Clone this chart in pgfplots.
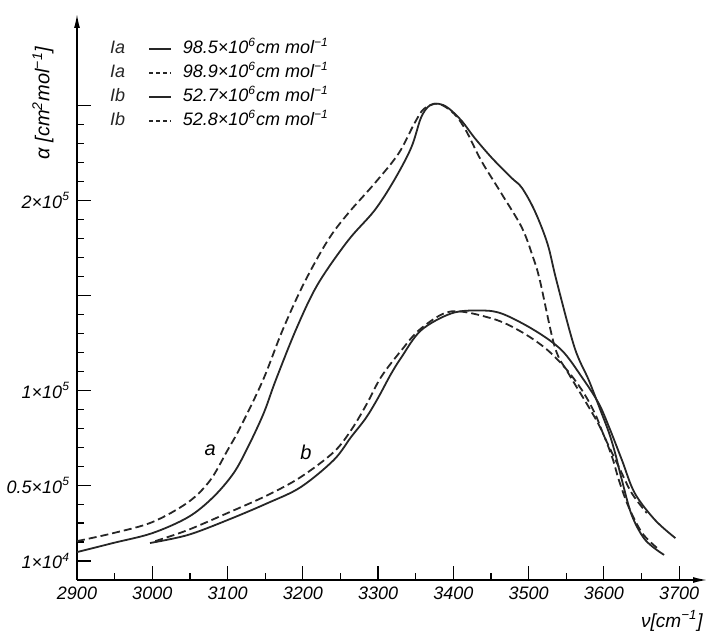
\documentclass[border=0pt]{standalone}
\usepackage{pgfplots}
\pgfplotsset{compat=1.18}
\usepackage{fontspec}
\setmainfont{Liberation Sans}
\usetikzlibrary{arrows.meta}

% curves, y in units of 1e4 cm^2/mol
\pgfplotstableread{
x y
2900 1.47
2948 1.95
3000 2.47
3048 3.32
3081 4.37
3108 5.63
3127 7.00
3148 8.79
3164 10.53
3192 13.30
3220 15.60
3260 17.89
3295 19.47
3321 21.05
3344 22.79
3357 24.37
3368 25.00
3380 25.11
3393 24.89
3411 24.21
3428 23.32
3451 22.26
3477 21.21
3491 20.68
3508 19.47
3525 17.74
3537 15.79
3561 12.26
3580 10.53
3597 8.79
3607 7.74
3615 6.68
3624 5.26
3637 3.42
3655 2.11
3680 1.32
}\aSolid
\pgfplotstableread{
x y
2900 2.05
2948 2.47
3000 3.05
3048 4.11
3077 5.26
3100 6.84
3117 8.05
3147 10.53
3173 13.16
3201 15.60
3233 17.89
3260 19.32
3295 20.89
3327 22.47
3348 24.05
3361 24.84
3380 25.11
3401 24.58
3417 23.68
3437 22.11
3464 20.37
3491 18.58
3506 17.00
3515 15.79
3535 12.26
3553 10.89
3580 9.11
3597 7.89
3611 6.47
3620 5.26
3633 3.84
3651 2.47
3671 1.68
}\aDashed
\pgfplotstableread{
x y
2997 1.95
3047 2.37
3100 3.16
3153 4.05
3197 4.89
3241 6.32
3264 7.53
3284 8.55
3300 9.60
3317 10.85
3331 11.74
3357 13.16
3397 14.05
3433 14.21
3464 14.05
3508 13.16
3544 12.11
3571 10.68
3593 9.32
3607 8.05
3624 6.32
3641 4.58
3668 3.16
3695 2.21
}\bSolid
\pgfplotstableread{
x y
3004 2.05
3047 2.63
3100 3.53
3153 4.47
3197 5.42
3241 6.74
3264 7.89
3284 9.21
3304 10.70
3331 12.11
3357 13.26
3397 14.16
3451 13.79
3487 13.16
3521 12.26
3548 11.21
3571 10.00
3588 8.79
3601 7.53
3620 5.95
3637 4.58
3657 3.53
}\bDashed

\newcommand{\legimg}[2]{\node[anchor=east,inner sep=0pt] at (-11.5pt,0pt) {#1};
  \draw[line width=0.8pt,#2] (0pt,0pt) -- (11pt,0pt);}

\begin{document}
\begin{tikzpicture}
\useasboundingbox (-38.5pt,-26pt) rectangle (315.5pt,290pt);
\begin{axis}[
    at={(0,0)}, anchor=south west,
    scale only axis, width=315pt, height=283pt,
    xmin=2900, xmax=3737, ymin=0, ymax=29.84,
    axis lines=left,
    axis line style={line width=0.7pt, -{Latex[length=7pt,width=3pt]}},
    tick align=inside,
    major tick length=7pt, minor tick length=3.5pt,
    tick style={line width=0.6pt, black},
    xtick={2900,3000,...,3700},
    xticklabels={2900,3000,3100,3200,3300,3400,3500,3600,3700},
    minor xtick={2950,3050,...,3650},
    ytick={1,5,10,15,20,25},
    yticklabels={1×10\textsuperscript{4},0.5×10\textsuperscript{5},1×10\textsuperscript{5},,2×10\textsuperscript{5},},
    minor ytick={2,3,4,6,7,8,9,11,12,13,14,16,17,18,19,21,22,23,24},
    ticklabel style={font=\itshape\fontsize{9}{10}\selectfont},
    xlabel={ν[cm\textsuperscript{−1}]},
    xlabel style={at={(axis description cs:0.997,-0.05)}, anchor=north east, inner sep=1pt, font=\itshape\fontsize{9.5}{11}\selectfont},
    ylabel={α [cm\textsuperscript{2}mol\textsuperscript{−1}]},
    ylabel style={at={(axis description cs:-0.054,0.843)}, anchor=center, font=\itshape\fontsize{10}{11}\selectfont},
    legend style={at={(axis description cs:0.052,0.957)}, anchor=north west,
        draw=none, fill=none, inner sep=0pt, row sep=2pt,
        font=\itshape\fontsize{9}{10}\selectfont,
        nodes={inner sep=0.5pt, text height=7pt, text depth=2pt}},
    legend cell align=left,
]
\addplot[black!85, line width=0.9pt, smooth, tension=0.55,
    legend image code/.code={\legimg{Ia}{}}] table {\aSolid};
\addlegendentry{\hspace{5pt}98.5×10\textsuperscript{6}cm mol\textsuperscript{−1}}
\addplot[black!85, line width=0.9pt, smooth, tension=0.55, dash pattern=on 4pt off 2pt,
    legend image code/.code={\legimg{Ia}{dash pattern=on 2pt off 1.5pt}}] table {\aDashed};
\addlegendentry{\hspace{5pt}98.9×10\textsuperscript{6}cm mol\textsuperscript{−1}}
\addplot[black!85, line width=0.9pt, smooth, tension=0.55,
    legend image code/.code={\legimg{Ib}{}}] table {\bSolid};
\addlegendentry{\hspace{5pt}52.7×10\textsuperscript{6}cm mol\textsuperscript{−1}}
\addplot[black!85, line width=0.9pt, smooth, tension=0.55, dash pattern=on 4pt off 2pt,
    legend image code/.code={\legimg{Ib}{dash pattern=on 2pt off 1.5pt}}] table {\bDashed};
\addlegendentry{\hspace{5pt}52.8×10\textsuperscript{6}cm mol\textsuperscript{−1}}
\node[font=\itshape\fontsize{10}{11}\selectfont] at (axis cs:3077,6.84) {a};
\node[font=\itshape\fontsize{10}{11}\selectfont] at (axis cs:3204,6.74) {b};
\end{axis}
\end{tikzpicture}
\end{document}
